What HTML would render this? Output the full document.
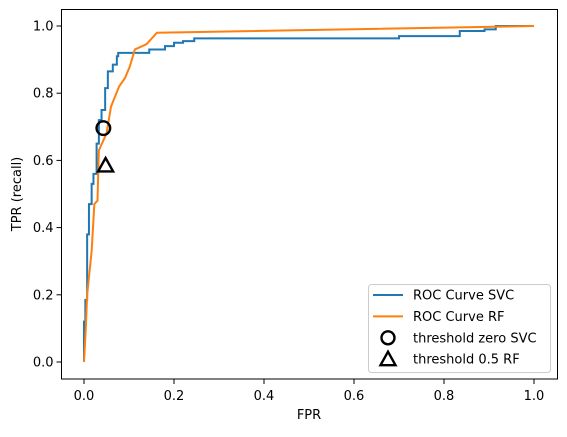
<!DOCTYPE html>
<html><head><meta charset="utf-8"><style>
html,body{margin:0;padding:0;background:#fff;}
svg text{font-family:"DejaVu Sans","Liberation Sans",sans-serif;fill:#000;}
</style></head><body>
<svg id="chart" width="567" height="432" viewBox="0 0 567 432" xmlns="http://www.w3.org/2000/svg">
<rect x="0" y="0" width="567" height="432" fill="#fff"/>
<g id="plot"></g>
<g id="axes"></g>
<g id="legend"></g>
</svg>
<script>
const xTicks = [0.0, 0.2, 0.4, 0.6, 0.8, 1.0];
const yTicks = [0.0, 0.2, 0.4, 0.6, 0.8, 1.0];
const tickLabels = ["0.0", "0.2", "0.4", "0.6", "0.8", "1.0"];
const svcFpr = [0,0,0.003,0.003,0.007,0.007,0.011,0.011,0.017,0.017,0.021,0.021,0.028,0.028,0.033,0.033,0.039,0.039,0.047,0.047,0.053,0.053,0.064,0.064,0.073,0.073,0.076,0.076,0.145,0.145,0.18,0.18,0.2,0.2,0.22,0.22,0.245,0.245,0.7,0.7,0.835,0.835,0.89,0.89,0.915,0.915,1.0];
const svcTpr = [0,0.12,0.12,0.185,0.185,0.38,0.38,0.47,0.47,0.53,0.53,0.56,0.56,0.65,0.65,0.72,0.72,0.75,0.75,0.815,0.815,0.865,0.865,0.885,0.885,0.91,0.91,0.92,0.92,0.93,0.93,0.94,0.94,0.95,0.95,0.955,0.955,0.963,0.963,0.97,0.97,0.985,0.985,0.99,0.99,1.0,1.0];
const rfFpr = [0,0.004,0.007,0.017,0.023,0.03,0.033,0.05,0.06,0.069,0.078,0.091,0.102,0.113,0.139,0.162,1.0];
const rfTpr = [0,0.1,0.2,0.33,0.47,0.48,0.63,0.68,0.76,0.79,0.82,0.845,0.88,0.93,0.946,0.98,1.0];
const markerSvc = [0.043, 0.696];
const markerRf = [0.048, 0.585];

const NS = "http://www.w3.org/2000/svg";
const X0 = 61.5, X1 = 557.5, Y0 = 9.5, Y1 = 379;
function sx(v){ return 84 + v*450; }
function sy(v){ return 362 - v*336; }
function mk(tag, attrs, parent){
  const e = document.createElementNS(NS, tag);
  for (const k in attrs) e.setAttribute(k, attrs[k]);
  parent.appendChild(e);
  return e;
}
const plot = document.getElementById('plot');
const axes = document.getElementById('axes');
const legend = document.getElementById('legend');

function pts(xs, ys){ return xs.map((x,i)=>sx(x).toFixed(2)+','+sy(ys[i]).toFixed(2)).join(' '); }
const l1 = mk('polyline', {points: pts(svcFpr, svcTpr), fill:'none', stroke:'#1f77b4', 'stroke-width':2}, plot);


const l2 = mk('polyline', {points: pts(rfFpr, rfTpr), fill:'none', stroke:'#ff7f0e', 'stroke-width':2}, plot);



const c = mk('circle', {cx: sx(markerSvc[0]), cy: sy(markerSvc[1]), r: 6.8, fill:'none', stroke:'#000', 'stroke-width':2.4}, plot);


function tri(cx, cy, parent){
  return mk('polygon', {points: `${cx},${cy-7.5} ${cx-7.5},${cy+6} ${cx+7.5},${cy+6}`, fill:'none', stroke:'#000', 'stroke-width':2.4, 'stroke-linejoin':'miter'}, parent);
}
const t = tri(sx(markerRf[0]), sy(markerRf[1]), plot);



const frame = mk('rect', {x:X0, y:Y0, width:X1-X0, height:Y1-Y0, fill:'none', stroke:'#000', 'stroke-width':1}, axes);



xTicks.forEach((v,i)=>{
  const x = sx(v);
  const tk = mk('line', {x1:x, y1:Y1, x2:x, y2:Y1+5, stroke:'#000', 'stroke-width':1}, axes);
  
  
  const tx = mk('text', {x:x, y:400, 'text-anchor':'middle', 'font-size':13}, axes);
  tx.textContent = tickLabels[i];
  
  
});
yTicks.forEach((v,i)=>{
  const y = sy(v);
  const tk = mk('line', {x1:X0-5, y1:y, x2:X0, y2:y, stroke:'#000', 'stroke-width':1}, axes);
  
  
  const tx = mk('text', {x:X0-8, y:y+4.5, 'text-anchor':'end', 'font-size':13}, axes);
  tx.textContent = tickLabels[i];
  
  
});
const xl = mk('text', {x:309, y:419, 'text-anchor':'middle', 'font-size':13}, axes);
xl.textContent = 'FPR';


const yl = mk('text', {x:0, y:0, 'text-anchor':'middle', 'font-size':13, transform:'translate(21,194) rotate(-90)'}, axes);
yl.textContent = 'TPR (recall)';



const lb = mk('rect', {x:368.5, y:284.5, width:182, height:88, rx:3, fill:'#fff', 'fill-opacity':0.8, stroke:'#ccc', 'stroke-width':1}, legend);


const entries = ['ROC Curve SVC','ROC Curve RF','threshold zero SVC','threshold 0.5 RF'];
entries.forEach((label,i)=>{
  const y = 295 + i*21.4;
  if (i===0 || i===1){
    const ln = mk('line', {x1:373, y1:y, x2:403, y2:y, stroke: i===0?'#1f77b4':'#ff7f0e', 'stroke-width':2}, legend);
    
    
  } else if (i===2){
    const cc = mk('circle', {cx:388, cy:y, r:6.5, fill:'none', stroke:'#000', 'stroke-width':2.4}, legend);
    
    
  } else {
    const tt = tri(388, y, legend);
    
    
  }
  const tx = mk('text', {x:413, y:y+4.5, 'font-size':13}, legend);
  tx.textContent = label;
  
  
});
</script>
</body></html>
